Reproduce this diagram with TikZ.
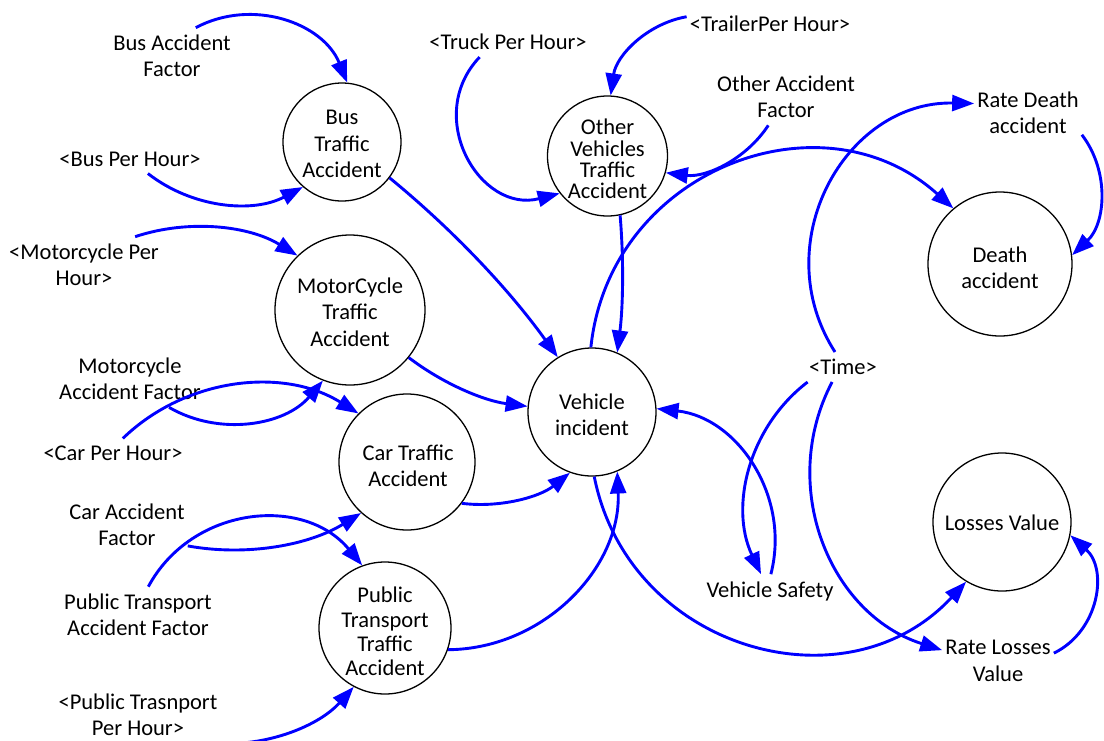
\documentclass[tikz,border=0pt]{standalone}
\usepackage{fontspec}
\setmainfont{Carlito}
\usetikzlibrary{arrows.meta}
\begin{document}
\begin{tikzpicture}[x=1pt,y=1pt,
  every node/.style={font=\fontsize{22.5}{26.5}\selectfont, align=center, text=black},
  aux/.style={circle, draw=black, line width=1.3pt, inner sep=0pt},
  lbl/.style={inner xsep=3pt, inner ysep=7pt},
  link/.style={draw=blue, line width=2.9pt, -{Triangle[length=22pt,width=16pt]}},
]
\useasboundingbox[fill=white] (0,0) rectangle (1104,-740);

% auxiliary variables (circles) and their captions
\node[aux, minimum size=118pt] (bus)   at (342,-142) {};
\node (busT)   at (342,-144) {Bus\\Traffic\\Accident};
\node[aux, minimum size=120pt] (other) at (607.5,-156) {};
\node[font=\fontsize{22.5}{21.3}\selectfont] (otherT) at (607.5,-159) {Other\\Vehicles\\Traffic\\Accident};
\node[aux, minimum size=144pt] (death) at (1000,-264) {};
\node (deathT) at (1000,-268) {Death\\accident};
\node[aux, minimum size=150pt] (motor) at (350,-310) {};
\node (motorT) at (350,-312) {MotorCycle\\Traffic\\Accident};
\node[aux, minimum size=136pt] (car)   at (407,-462) {};
\node (carT)   at (408,-466) {Car Traffic\\Accident};
\node[aux, minimum size=128pt] (vi)    at (592,-412) {};
\node (viT)    at (592,-415) {Vehicle\\incident};
\node[aux, minimum size=132pt] (ptta)  at (385,-628) {};
\node[font=\fontsize{22.5}{24.3}\selectfont] (pttaT) at (385,-631.5) {Public\\Transport\\Traffic\\Accident};
\node[aux, minimum size=138pt] (ls)    at (1002,-522) {};
\node (lsT)    at (1002,-523) {Losses Value};

% constants, shadow variables and rates
\node[lbl] (busf) at (172,-56)  {Bus Accident\\Factor};
\node[lbl] (bph)  at (130,-159) {<Bus Per Hour>};
\node[lbl] (mph)  at (84,-265)  {<Motorcycle Per\\Hour>};
\node[lbl] (maf)  at (130,-379) {Motorcycle\\Accident Factor};
\node[lbl] (cph)  at (113,-453) {<Car Per Hour>};
\node[lbl] (caf)  at (127,-525) {Car Accident\\Factor};
\node[lbl] (ptaf) at (138,-615) {Public Transport\\Accident Factor};
\node[lbl] (ptph) at (138,-715) {<Public Trasnport\\Per Hour>};
\node[lbl] (tph)  at (508,-42)  {<Truck Per Hour>};
\node[lbl] (trph) at (770,-24)  {<TrailerPer Hour>};
\node[lbl] (oaf)  at (786,-97)  {Other Accident\\Factor};
\node[lbl] (rda)  at (1028,-113) {Rate Death\\accident};
\node[lbl] (time) at (843,-367) {<Time>};
\node[lbl] (vs)   at (770,-591) {Vehicle Safety};
\node[lbl] (rlv)  at (998,-661) {Rate Losses\\Value};

% causal links
\draw[link] (busf.50)  to[bend left=48, looseness=1.02] (bus.85);
\draw[link] (bph.321)  to[bend right=33, looseness=0.93] (bus.229);
\draw[link] (mph.29)   to[bend left=25, looseness=0.89] (motor.134);
\draw[link] (maf.324)  to[bend right=40, looseness=0.96] (motor.249);
\draw[link] (cph.56)   to[bend left=38, looseness=0.95] (car.135);
\draw[link] (caf.341)  to[bend right=21, looseness=0.88] (car.228);
\draw[link] (ptaf.70)  to[bend left=56, looseness=1.09] (ptta.110);
\draw[link] (ptph.340) to[bend right=26, looseness=0.89] (ptta.242);
\draw[link] (tph.208)  to[bend right=74, looseness=1.33] (other.218);
\draw[link] (trph.175) to[bend right=36, looseness=0.94] (other.87);
\draw[link] (oaf.238)  to[bend left=32, looseness=0.92] (other.344);
\draw[link] (bus.323)  to[bend left=7.5, looseness=0.86] (vi.122);
\draw[link] (motor.321.5) to[bend right=15, looseness=0.87] (vi.175);
\draw[link] (car.323)  to[bend right=23, looseness=0.88] (vi.250);
\draw[link] (ptta.341) to[bend right=46, looseness=1.0] (vi.293);
\draw[link] (other.282.5) to[bend left=6, looseness=0.85] (vi.67);
\draw[link] (vi.91)    to[bend left=63, looseness=1.17] (death.130);
\draw[link] (vi.272)   to[bend right=63, looseness=1.17] (ls.239);
\draw[link] (time.118) to[bend left=62, looseness=1.16] (rda.170);
\draw[link] (time.234) to[bend right=50, looseness=1.04] (rlv.169);
\draw[link] (time.203) to[bend right=39, looseness=0.96] (vs.118);
\draw[link] (vs.87)    to[bend right=49, looseness=1.03] (vi.3.5);
\draw[link] (rda.338)  to[bend left=42, looseness=0.98] (death.7);
\draw[link] (rlv.8.5)  to[bend right=56, looseness=1.09] (ls.349);
\end{tikzpicture}
\end{document}
